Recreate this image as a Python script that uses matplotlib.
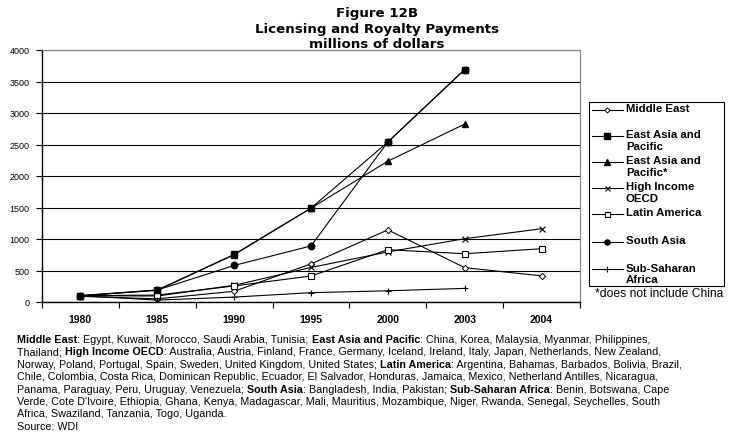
import matplotlib
matplotlib.use("Agg")
import matplotlib.pyplot as plt
from matplotlib.lines import Line2D
from matplotlib.patches import Rectangle

years = ["1980", "1985", "1990", "1995", "2000", "2003", "2004"]
middle_east = [90, 50, 170, 605, 1145, 545, 415]
east_asia = [100, 190, 755, 1490, 2540, 3690, None]
east_asia_ex_china = [100, 185, 750, 1490, 2235, 2825, None]
high_income = [100, 95, 265, 548, 795, 1005, 1163]
latin_america = [100, 110, 255, 413, 830, 766, 846]
south_asia = [100, 190, 580, 890, 2540, 3690, None]
sub_saharan = [100, 30, 78, 148, 178, 216, None]

series = [
    ("Middle East", middle_east, dict(marker="D", ms=3.2, mfc="white", mec="black", mew=0.7), 3),
    ("East Asia and\nPacific", east_asia, dict(marker="s", ms=5.0, mfc="black", mec="black"), 6),
    ("East Asia and\nPacific*", east_asia_ex_china, dict(marker="^", ms=4.8, mfc="black", mec="black"), 3),
    ("High Income\nOECD", high_income, dict(marker="x", ms=4.5, mec="black", mew=0.8), 3),
    ("Latin America", latin_america, dict(marker="s", ms=4.5, mfc="white", mec="black", mew=0.8), 3),
    ("South Asia", south_asia, dict(marker="o", ms=4.6, mfc="black", mec="black"), 2.5),
    ("Sub-Saharan\nAfrica", sub_saharan, dict(marker="+", ms=5, mec="black", mew=0.8), 3),
]

W, H = 729, 435
fig = plt.figure(figsize=(W / 100, H / 100), dpi=100)
ax = fig.add_axes([42 / W, 1 - 303 / H, (580 - 42) / W, (303 - 51) / H])

xs = list(range(len(years)))
for label, vals, st, z in series:
    px = [x for x, v in zip(xs, vals) if v is not None]
    py = [v for v in vals if v is not None]
    ax.plot(px, py, color="black", lw=0.8, **st, zorder=z)

ax.set_xlim(-0.5, len(years) - 0.5)
ax.set_ylim(0, 4000)
ax.set_yticks(range(0, 4001, 500))
ax.set_yticklabels([str(v) for v in range(0, 4001, 500)], fontsize=6.5, family="Liberation Sans")
ax.set_xticks([i - 0.5 for i in range(len(years) + 1)])
ax.set_xticklabels([])
ax.set_xticks(xs, minor=True)
ax.set_xticklabels(years, minor=True, fontsize=7.5, fontweight="bold", family="Liberation Sans")
ax.tick_params(axis="x", which="major", direction="out", length=4, width=0.8)
ax.tick_params(axis="x", which="minor", length=0, pad=9)
ax.tick_params(axis="y", direction="out", length=4, width=0.8, pad=5)
ax.grid(axis="y", color="black", lw=0.8)
ax.set_axisbelow(True)
for s in ["top", "right"]:
    ax.spines[s].set_color("#808080")
    ax.spines[s].set_linewidth(0.8)
for s in ["left", "bottom"]:
    ax.spines[s].set_color("black")
    ax.spines[s].set_linewidth(1.0)

# Title
for t, y in [("Figure 12B", 13), ("Licensing and Royalty Payments", 29), ("millions of dollars", 45)]:
    fig.text(377 / W, 1 - y / H, t, ha="center", va="center", fontsize=9.6,
             fontweight="bold", family="DejaVu Sans")

# Legend
fig.patches.append(Rectangle((589 / W, 1 - 287 / H), (724 - 589) / W, (287 - 103) / H,
                             transform=fig.transFigure, fill=False, ec="black", lw=0.8))
leg_y = [111, 137, 163, 189, 215, 243, 270]
for (label, vals, st, z), y in zip(series, leg_y):
    fig.lines.append(Line2D([592 / W, 623 / W], [1 - y / H, 1 - y / H], transform=fig.transFigure,
                            color="black", lw=0.8))
    st2 = dict(st)
    st2["ms"] = st2["ms"] * 0.8
    fig.lines.append(Line2D([607 / W], [1 - y / H], transform=fig.transFigure,
                            color="black", lw=0, **st2))
    fig.text(626 / W, 1 - (y - 6.5) / H, label, ha="left", va="top", fontsize=8.2,
             fontweight="bold", family="Liberation Sans", linespacing=1.13)

fig.canvas.draw()
renderer = fig.canvas.get_renderer()

fam = "Liberation Sans"

# fit size of note
probe = fig.text(0, 0, "*does not include China", fontsize=10, family=fam)
wnote = probe.get_window_extent(renderer).width
probe.remove()
fig.text(595 / W, 1 - 294 / H, "*does not include China", ha="left", va="center",
         fontsize=10 * 128 / wnote, family=fam)

# Footnote
lines = [
    [("Middle East", True), (": Egypt, Kuwait, Morocco, Saudi Arabia, Tunisia; ", False),
     ("East Asia and Pacific", True), (": China, Korea, Malaysia, Myanmar, Philippines,", False)],
    [("Thailand; ", False), ("High Income OECD", True),
     (": Australia, Austria, Finland, France, Germany, Iceland, Ireland, Italy, Japan, Netherlands, New Zealand,", False)],
    [("Norway, Poland, Portugal, Spain, Sweden, United Kingdom, United States; ", False), ("Latin America", True),
     (": Argentina, Bahamas, Barbados, Bolivia, Brazil,", False)],
    [("Chile, Colombia, Costa Rica, Dominican Republic, Ecuador, El Salvador, Honduras, Jamaica, Mexico, Netherland Antilles, Nicaragua,", False)],
    [("Panama, Paraguay, Peru, Uruguay, Venezuela; ", False), ("South Asia", True),
     (": Bangladesh, India, Pakistan; ", False), ("Sub-Saharan Africa", True), (": Benin, Botswana, Cape", False)],
    [("Verde, Cote D'Ivoire, Ethiopia, Ghana, Kenya, Madagascar, Mali, Mauritius, Mozambique, Niger, Rwanda, Senegal, Seychelles, South", False)],
    [("Africa, Swaziland, Tanzania, Togo, Uganda.", False)],
    [("Source: WDI", False)],
]


def seg_width(segs, size):
    total = 0
    for txt, bold in segs:
        t = fig.text(0, 0, txt, fontsize=size, fontweight="bold" if bold else "normal", family=fam)
        total += t.get_window_extent(renderer).width
        t.remove()
    return total


base = 7.0
w1 = seg_width(lines[0], base)
fsize = base * 625 / w1

y0 = 340
for i, segs in enumerate(lines):
    y = y0 + i * 12.4
    x = 17
    for txt, bold in segs:
        t = fig.text(x / W, 1 - y / H, txt, ha="left", va="center", fontsize=fsize,
                     fontweight="bold" if bold else "normal", family=fam)
        x += t.get_window_extent(renderer).width

fig.savefig("out.png", dpi=100)
